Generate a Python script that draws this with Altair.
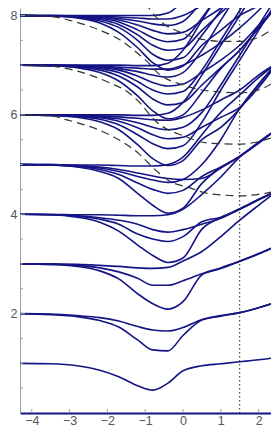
import altair as alt
import pandas as pd

# common abscissae for the solid spectral curves
X = [-4.5, -3.5, -2.8, -2.2, -1.7, -1.2, -0.8, -0.4, 0.0, 0.5, 1.0, 1.5, 2.0, 2.5]

G1 = [1.00, 0.99, 0.95, 0.86, 0.73, 0.55, 0.46, 0.60, 0.85, 0.95, 0.99, 1.03, 1.07, 1.12]

G2A = [2.0, 1.99, 1.96, 1.92, 1.85, 1.74, 1.67, 1.65, 1.72, 1.88, 1.96, 2.02, 2.12, 2.24]
G2B = [2.0, 1.98, 1.94, 1.86, 1.73, 1.47, 1.27, 1.25, 1.56, 1.87, 1.95, 2.02, 2.12, 2.24]

G3A = [3.0, 3.0, 2.99, 2.97, 2.95, 2.92, 2.91, 2.93, 3.06, 3.25, 3.55, 3.88, 4.18, 4.47]
G3B = [3.0, 2.99, 2.97, 2.92, 2.84, 2.71, 2.57, 2.57, 2.66, 2.80, 2.91, 3.05, 3.20, 3.37]
G3C = [3.0, 2.99, 2.95, 2.86, 2.70, 2.40, 2.20, 2.09, 2.24, 2.78, 2.92, 3.06, 3.21, 3.38]

G4A = [4.0, 4.0, 3.99, 3.99, 3.98, 3.97, 3.97, 3.99, 4.10, 4.40, 4.75, 5.15, 5.45, 5.72]
G4B = [4.0, 3.99, 3.97, 3.93, 3.88, 3.80, 3.69, 3.64, 3.69, 3.80, 3.92, 4.10, 4.29, 4.47]
G4C = [4.0, 3.99, 3.96, 3.90, 3.80, 3.60, 3.50, 3.45, 3.55, 3.85, 3.94, 4.11, 4.30, 4.48]
G4D = [4.0, 3.99, 3.94, 3.84, 3.66, 3.38, 3.17, 3.03, 3.12, 3.70, 3.93, 4.10, 4.29, 4.47]

G5A = [5.0, 5.0, 4.99, 4.99, 4.98, 4.97, 4.97, 5.00, 5.15, 5.60, 6.05, 6.40, 6.75, 7.05]
G5B = [5.0, 5.0, 4.98, 4.95, 4.90, 4.83, 4.77, 4.72, 4.70, 4.72, 4.93, 5.16, 5.43, 5.72]
G5C = [5.0, 4.99, 4.97, 4.93, 4.86, 4.76, 4.69, 4.64, 4.70, 5.00, 5.50, 6.13, 6.62, 7.05]
G5D = [5.0, 4.99, 4.96, 4.90, 4.80, 4.63, 4.50, 4.42, 4.48, 4.76, 4.95, 5.17, 5.44, 5.73]
G5E = [5.0, 4.99, 4.95, 4.86, 4.72, 4.42, 4.18, 4.02, 4.12, 4.62, 4.94, 5.16, 5.43, 5.72]

G6A = [6.0, 6.0, 6.0, 6.0, 6.0, 5.99, 5.99, 6.03, 6.25, 6.80, 7.40, 8.00, 8.60, 9.20]
G6B = [6.0, 6.0, 5.99, 5.98, 5.96, 5.93, 5.90, 5.89, 5.95, 6.10, 6.30, 6.50, 6.80, 7.05]
G6C = [6.0, 6.0, 5.99, 5.96, 5.92, 5.84, 5.75, 5.70, 5.75, 6.05, 6.60, 7.20, 7.80, 8.40]
G6D = [6.0, 5.99, 5.98, 5.94, 5.87, 5.74, 5.60, 5.52, 5.55, 5.75, 5.95, 6.15, 6.55, 7.05]
G6E = [6.0, 5.99, 5.97, 5.91, 5.80, 5.60, 5.42, 5.32, 5.38, 5.85, 6.50, 7.10, 7.70, 8.30]
G6F = [6.0, 5.99, 5.95, 5.86, 5.70, 5.40, 5.12, 4.98, 5.08, 5.50, 5.75, 6.12, 6.60, 7.05]

G7A = [7.0, 7.0, 7.0, 7.0, 7.0, 6.99, 6.99, 7.04, 7.30, 7.90, 8.50, 9.10, 9.70, 10.3]
G7B = [7.0, 7.0, 6.99, 6.98, 6.96, 6.94, 6.92, 6.92, 7.00, 7.20, 7.45, 7.75, 8.10, 8.50]
G7C = [7.0, 7.0, 6.99, 6.97, 6.93, 6.87, 6.80, 6.76, 6.85, 7.30, 7.90, 8.50, 9.10, 9.70]
G7D = [7.0, 6.99, 6.98, 6.95, 6.90, 6.78, 6.65, 6.58, 6.62, 6.85, 7.10, 7.40, 7.80, 8.20]
G7E = [7.0, 6.99, 6.97, 6.93, 6.85, 6.67, 6.50, 6.42, 6.47, 6.90, 7.50, 8.10, 8.70, 9.30]
G7F = [7.0, 6.99, 6.96, 6.90, 6.78, 6.56, 6.32, 6.20, 6.25, 6.60, 6.95, 7.30, 7.75, 8.20]
G7G = [7.0, 6.99, 6.95, 6.85, 6.68, 6.38, 6.08, 5.92, 6.00, 6.45, 6.93, 7.30, 7.75, 8.20]

G8A = [8.0, 8.0, 8.0, 8.0, 8.0, 8.0, 8.0, 8.05, 8.30, 8.90, 9.50, 10.1, 10.7, 11.3]
G8B = [8.0, 8.0, 7.99, 7.98, 7.97, 7.95, 7.93, 7.93, 8.00, 8.20, 8.45, 8.75, 9.10, 9.50]
G8C = [8.0, 8.0, 7.99, 7.97, 7.94, 7.89, 7.83, 7.80, 7.88, 8.30, 8.90, 9.50, 10.1, 10.7]
G8D = [8.0, 7.99, 7.98, 7.96, 7.91, 7.81, 7.70, 7.63, 7.66, 7.90, 8.15, 8.45, 8.80, 9.20]
G8E = [8.0, 7.99, 7.98, 7.94, 7.87, 7.71, 7.55, 7.47, 7.52, 7.95, 8.50, 9.10, 9.70, 10.3]
G8F = [8.0, 7.99, 7.97, 7.92, 7.82, 7.61, 7.40, 7.30, 7.34, 7.70, 8.05, 8.40, 8.80, 9.20]
G8G = [8.0, 7.99, 7.96, 7.89, 7.76, 7.50, 7.22, 7.10, 7.15, 7.60, 8.10, 8.60, 9.10, 9.60]
G8H = [8.0, 7.99, 7.95, 7.85, 7.66, 7.35, 7.05, 6.90, 6.98, 7.40, 7.70, 8.00, 8.20, 8.50]

SOLID = {
    "G1": G1, "G2A": G2A, "G2B": G2B, "G3A": G3A, "G3B": G3B, "G3C": G3C,
    "G4A": G4A, "G4B": G4B, "G4C": G4C, "G4D": G4D,
    "G5A": G5A, "G5B": G5B, "G5C": G5C, "G5D": G5D, "G5E": G5E,
    "G6A": G6A, "G6B": G6B, "G6C": G6C, "G6D": G6D, "G6E": G6E, "G6F": G6F,
    "G7A": G7A, "G7B": G7B, "G7C": G7C, "G7D": G7D, "G7E": G7E, "G7F": G7F, "G7G": G7G,
    "G8A": G8A, "G8B": G8B, "G8C": G8C, "G8D": G8D, "G8E": G8E, "G8F": G8F, "G8G": G8G, "G8H": G8H,
}

# dashed guide curves
D6X = [-4.5, -3.5, -3.07, -2.12, -1.59, -1.14, -0.93, -0.34, 0.19, 0.53, 1.0, 1.5, 2.0, 2.5]
D6Y = [6.0, 5.98, 5.90, 5.66, 5.45, 5.20, 5.04, 4.66, 4.53, 4.44, 4.39, 4.37, 4.40, 4.47]
D7X = [-4.5, -3.5, -3.07, -2.38, -1.93, -1.48, -1.19, -0.69, 0.0, 0.71, 1.5, 2.0, 2.5]
D7Y = [7.0, 6.98, 6.93, 6.78, 6.64, 6.47, 6.28, 5.85, 5.58, 5.43, 5.41, 5.46, 5.58]
D8X = [-4.5, -3.5, -2.99, -2.19, -1.67, -1.14, -0.93, -0.69, 0.0, 0.5, 1.0, 1.5, 2.0, 2.5]
D8Y = [8.0, 7.98, 7.90, 7.70, 7.51, 7.20, 7.06, 6.86, 6.60, 6.50, 6.46, 6.44, 6.50, 6.70]
D9X = [-1.0, -0.69, 0.0, 0.5, 1.0, 1.5, 2.0, 2.5]
D9Y = [8.25, 7.95, 7.64, 7.52, 7.48, 7.48, 7.56, 7.80]

YTICKS_MINOR = [0.5, 1.0, 1.5, 2.5, 3.0, 3.5, 4.5, 5.0, 5.5, 6.5, 7.0, 7.5]
YTICKS_MAJOR = [2, 4, 6, 8]
XTICKS = [-4, -3, -2, -1, 0, 1, 2]
DOTTED_X = [1.5]

rows = []
for name, ys in SOLID.items():
    for xv, yv in zip(X, ys):
        rows.append({"x": xv, "y": yv, "curve": name})
solid_df = pd.DataFrame(rows)

drows = []
for name, (xs_, ys_) in {"D6": (D6X, D6Y), "D7": (D7X, D7Y), "D8": (D8X, D8Y), "D9": (D9X, D9Y)}.items():
    for xv, yv in zip(xs_, ys_):
        drows.append({"x": xv, "y": yv, "curve": name})
dash_df = pd.DataFrame(drows)

W, H = 251, 405
BLUE = "#141485"
xscale = alt.Scale(domain=[-4.312, 2.328], nice=False, zero=False)
yscale = alt.Scale(domain=[0, 8.15], nice=False, zero=False)

xaxis = alt.Axis(values=XTICKS, ticks=False, grid=False, domainColor=BLUE, domainWidth=2,
                 labelColor="#555555", labelFontSize=12.5, labelFont="Liberation Sans",
                 labelPadding=1, title=None, labelFlush=False)
yaxis = alt.Axis(values=YTICKS_MAJOR, ticks=False, grid=False, domainColor="#a0a0a0", domainWidth=1,
                 labelColor="#555555", labelFontSize=12.5, labelFont="Liberation Sans",
                 labelPadding=3, title=None, labelFlush=False)

XE = alt.X("x:Q", scale=xscale, axis=xaxis)
YE = alt.Y("y:Q", scale=yscale, axis=yaxis)

solid = alt.Chart(solid_df).mark_line(clip=True, color=BLUE, strokeWidth=1.6, interpolate="monotone").encode(
    x=XE, y=YE, detail="curve:N",
)

dashed = alt.Chart(dash_df).mark_line(clip=True, color="#333333", strokeWidth=1.2, strokeDash=[8, 5],
                                      interpolate="monotone").encode(
    x=XE, y=YE, detail="curve:N",
)

dotted = alt.Chart(pd.DataFrame({"x": DOTTED_X})).mark_rule(color="#222222", strokeWidth=1,
                                                            strokeDash=[1.5, 2.5]).encode(x=XE)

ytm = alt.Chart(pd.DataFrame({"y": YTICKS_MINOR})).mark_rule(color="#a0a0a0", strokeWidth=1).encode(
    y=YE, x=alt.value(0), x2=alt.value(3)
)
ytM = alt.Chart(pd.DataFrame({"y": YTICKS_MAJOR})).mark_rule(color="#a0a0a0", strokeWidth=1).encode(
    y=YE, x=alt.value(0), x2=alt.value(5)
)
xt = alt.Chart(pd.DataFrame({"x": XTICKS})).mark_rule(color="#a0a0a0", strokeWidth=1).encode(
    x=XE, y=alt.value(H - 4), y2=alt.value(H)
)

chart = alt.layer(solid, ytm, ytM, xt, dotted, dashed).properties(
    width=W, height=H,
    autosize=alt.AutoSizeParams(type="none"),
    padding={"left": 12, "top": 0, "right": 0, "bottom": 16},
).configure_view(stroke=None)

chart.save("out.html", embed_options={"renderer": "svg", "actions": False})
